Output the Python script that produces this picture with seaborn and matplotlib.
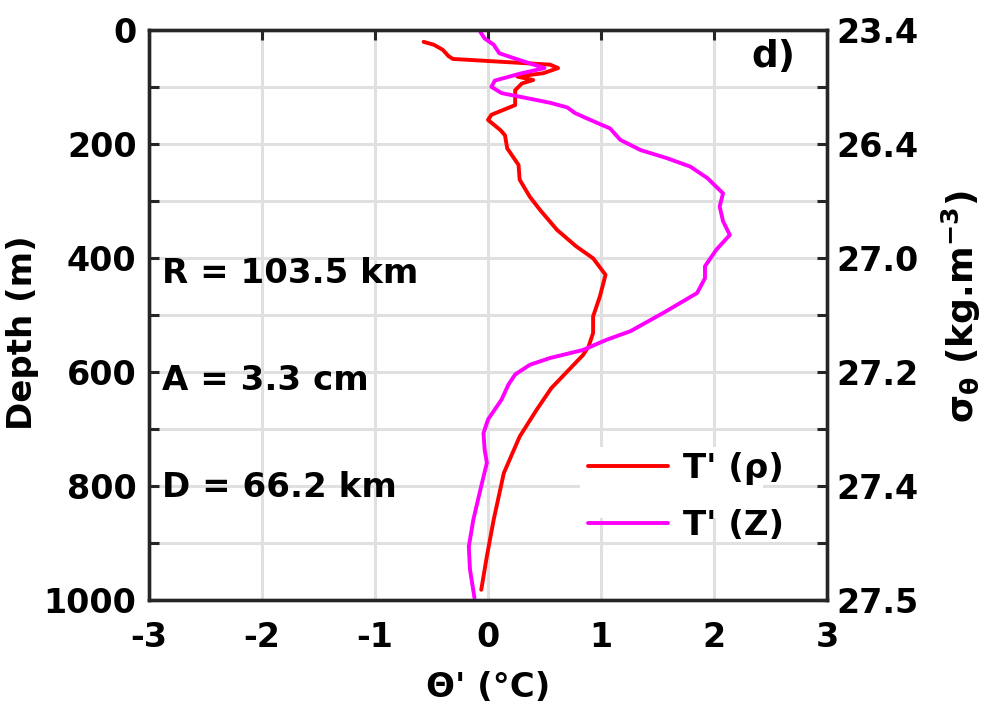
import matplotlib
matplotlib.use("Agg")
import matplotlib.pyplot as plt
import seaborn as sns
from matplotlib.patches import Rectangle

# Temperature anomaly profiles (°C) versus depth (m)
rho_depth = [20, 25, 34, 45, 50, 60, 66, 75, 81, 87, 93, 105, 131, 148, 157, 175, 184, 207, 236, 262,
             292, 315, 350, 379, 400, 429, 467, 502, 531, 555, 570, 599, 628, 666, 713, 777, 859, 923, 982]
rho_temp = [-0.57, -0.48, -0.40, -0.35, -0.31, 0.55, 0.62, 0.49, 0.26, 0.40, 0.30, 0.24, 0.24, 0.03, 0.00,
            0.11, 0.15, 0.17, 0.27, 0.28, 0.37, 0.46, 0.61, 0.78, 0.93, 1.04, 0.99, 0.93, 0.93, 0.89,
            0.84, 0.70, 0.56, 0.43, 0.28, 0.14, 0.05, -0.01, -0.06]

z_depth = [2, 14, 25, 40, 52, 66, 76, 88, 99, 110, 119, 127, 135, 145, 154, 172, 192, 210, 224, 239,
           259, 286, 309, 335, 359, 385, 414, 435, 461, 496, 528, 543, 561, 575, 587, 604, 622, 648,
           683, 707, 736, 759, 800, 859, 906, 946, 996]
z_temp = [-0.07, -0.03, 0.05, 0.10, 0.28, 0.50, 0.28, 0.06, 0.03, 0.12, 0.35, 0.55, 0.70, 0.77, 0.87,
          1.08, 1.17, 1.35, 1.58, 1.79, 1.94, 2.08, 2.05, 2.08, 2.14, 2.02, 1.92, 1.92, 1.85, 1.55,
          1.26, 1.05, 0.84, 0.55, 0.37, 0.24, 0.18, 0.12, 0.00, -0.04, -0.03, -0.01, -0.06, -0.13,
          -0.17, -0.16, -0.12]

series_labels = ["T' (ρ)", "T' (Z)"]
series_colors = ["#ff0000", "#ff00ff"]

x_ticks = [-3, -2, -1, 0, 1, 2, 3]
depth_ticks = [0, 100, 200, 300, 400, 500, 600, 700, 800, 900, 1000]
depth_labels = ["0", "", "200", "", "400", "", "600", "", "800", "", "1000"]
sigma_labels = ["23.4", "", "26.4", "", "27.0", "", "27.2", "", "27.4", "", "27.5"]

eddy_text = ["R = 103.5 km", "A = 3.3 cm", "D = 66.2 km"]
eddy_text_y = [0.5566, 0.3687, 0.1809]

sns.set_style("white")
plt.rcParams['font.family'] = ['DejaVu Sans']
plt.rcParams['font.weight'] = 'bold'
plt.rcParams['axes.labelweight'] = 'bold'
plt.rcParams['text.color'] = 'black'
plt.rcParams['axes.labelcolor'] = 'black'
plt.rcParams['mathtext.fontset'] = 'dejavusans'
plt.rcParams['mathtext.default'] = 'bf'

TICK_FS = 24
TEXT_FS = 24.5
spine_color = "#262626"

fig = plt.figure(figsize=(9.89, 7.07), dpi=100)
ax = fig.add_axes([0.1507, 0.1513, 0.6855, 0.8056])

# White patch behind the legend entries
ax.add_patch(Rectangle((0.636, 0.144), 0.27, 0.125, transform=ax.transAxes,
                       facecolor="white", edgecolor="none", zorder=1))

sns.lineplot(x=rho_temp, y=rho_depth, sort=False, estimator=None, color=series_colors[0],
             lw=2.8, ax=ax, label=series_labels[0], zorder=3)
sns.lineplot(x=z_temp, y=z_depth, sort=False, estimator=None, color=series_colors[1],
             lw=2.8, ax=ax, label=series_labels[1], zorder=3)

ax.set_xlim(-3, 3)
ax.set_ylim(1000, 0)
ax.set_xticks(x_ticks)
ax.set_xticklabels([str(v) for v in x_ticks])
ax.set_yticks(depth_ticks)
ax.set_yticklabels(depth_labels)
ax.grid(True, color="#e0e0e0", lw=2.2)
ax.set_axisbelow(True)
ax.tick_params(direction="in", length=7, width=2.2, colors=spine_color, labelcolor="black",
               labelsize=TICK_FS, top=True, right=False)
ax.tick_params(axis="x", pad=15)
ax.tick_params(axis="y", pad=9)
ax.set_xlabel("Θ' (°C)", fontsize=TEXT_FS, labelpad=12)
ax.set_ylabel("Depth (m)", fontsize=TEXT_FS)
ax.yaxis.set_label_coords(-0.162, 0.47)

for s in ax.spines.values():
    s.set_linewidth(2.4)
    s.set_color(spine_color)

ax2 = ax.twinx()
ax2.set_ylim(1000, 0)
ax2.set_yticks(depth_ticks)
ax2.set_yticklabels(sigma_labels)
ax2.grid(False)
ax2.tick_params(direction="in", length=7, width=2.2, colors=spine_color, labelcolor="black",
                labelsize=TICK_FS, pad=7)
ax2.set_ylabel("σ$_θ$ (kg.m$^{-3}$)", fontsize=26)
ax2.yaxis.set_label_coords(1.167, 0.515)
for s in ax2.spines.values():
    s.set_linewidth(2.4)
    s.set_color(spine_color)

for txt, yy in zip(eddy_text, eddy_text_y):
    ax.text(0.019, yy, txt, transform=ax.transAxes, fontsize=TEXT_FS, fontweight="bold",
            ha="left", va="baseline")

ax.text(0.953, 0.9364, "d)", transform=ax.transAxes, fontsize=27, fontweight="bold",
        ha="right", va="baseline")

leg = ax.legend(loc="upper left", bbox_to_anchor=(0.6475, 0.2600), frameon=False,
                fontsize=TEXT_FS, handlelength=2.35, handletextpad=0.44, labelspacing=0.7,
                borderpad=0, borderaxespad=0)
for line in leg.get_lines():
    line.set_linewidth(2.8)

fig.savefig("out.png", dpi=100)
